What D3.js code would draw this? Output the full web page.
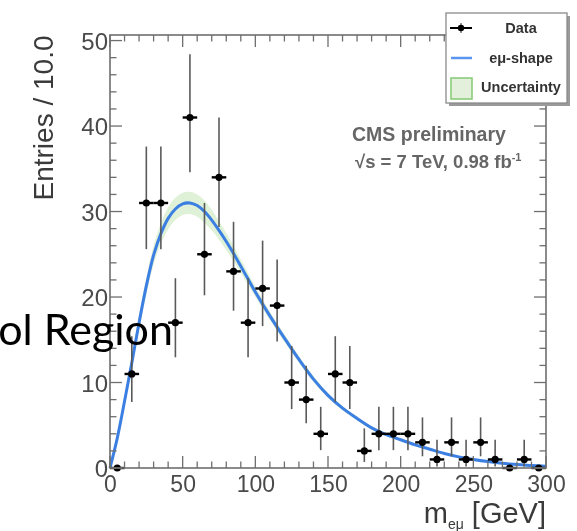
<!DOCTYPE html>
<html>
<head>
<meta charset="utf-8">
<script src="https://cdn.jsdelivr.net/npm/d3@7"></script>
<style>
  html, body { margin: 0; padding: 0; background: #fff; }
  svg { display: block; }
</style>
</head>
<body>
<svg id="chart" width="577" height="531"></svg>
<script>
// ---- data ----
const binCenters = [5,15,25,35,45,55,65,75,85,95,105,115,125,135,145,155,165,175,185,195,205,215,225,235,245,255,265,275,285,295];
const counts     = [0,11,31,31,17,41,25,34,23,17,21,19,10,8,4,11,10,2,4,4,4,3,1,3,1,3,1,0,1,0];
const errLowBound  = [0,7.73,25.6,25.6,12.95,34.6,20.2,28.2,18.4,12.95,16.6,14.8,6.89,5.23,2.09,7.73,6.89,0.71,2.09,2.09,2.09,1.37,0.17,1.37,0.17,1.37,0.17,0,0.17,0];
const errHighBound = [0,15.42,37.6,37.6,22.2,48.4,31.0,41.0,28.8,22.2,26.6,24.4,14.27,11.95,7.16,15.42,14.27,4.64,7.16,7.16,7.16,5.92,3.30,5.92,3.30,5.92,3.30,0,3.30,0];

const curveX = [0,5,10,15,20,25,30,35,40,45,50,55,60,65,70,75,80,85,90,95,100,110,120,130,140,150,160,170,180,190,200,210,220,230,240,250,260,270,280,290,300];
const curveY = [0,3.5,7.8,12.3,17.0,21.3,24.9,27.4,29.2,30.3,30.9,31.0,30.7,30.0,29.0,27.8,26.5,25.1,23.6,22.1,20.6,17.8,15.2,12.7,10.4,8.5,7.0,5.8,4.7,3.9,3.3,2.7,2.2,1.7,1.3,1.0,0.75,0.55,0.4,0.3,0.2];
const curveUnc = [0,0.3,0.5,0.7,0.9,1.0,1.1,1.2,1.3,1.3,1.3,1.3,1.3,1.3,1.2,1.1,1.0,0.9,0.8,0.7,0.6,0.5,0.45,0.4,0.35,0.3,0.25,0.2,0.2,0.15,0.15,0.1,0.1,0.1,0.1,0.08,0.06,0.05,0.04,0.03,0.02];

const xTicks = [0,50,100,150,200,250,300];
const yTicks = [0,10,20,30,40,50];
const legendLabels = ["Data", "eμ-shape", "Uncertainty"];

// ---- layout ----
const svg = d3.select("#chart");
const L = 110, R = 546, T = 35, B = 468;
const x = d3.scaleLinear().domain([0, 300]).range([L, R]);
const y = d3.scaleLinear().domain([0, 50.65]).range([B, T]);

const chart = svg.append("g").style("filter", "blur(0.45px)");
const axisCol = "#6e6e6e";
const labelCol = "#4a4a4a";

// uncertainty band
const band = d3.area()
  .x((d, i) => x(curveX[i]))
  .y0((d, i) => y(Math.max(0, curveY[i] - curveUnc[i])))
  .y1((d, i) => y(curveY[i] + curveUnc[i]))
  .curve(d3.curveCatmullRom);
chart.append("path").datum(curveX).attr("d", band)
  .attr("fill", "#dcefd2").attr("opacity", 0.9);

// curve
const line = d3.line()
  .x((d, i) => x(curveX[i]))
  .y((d, i) => y(curveY[i]))
  .curve(d3.curveCatmullRom);
chart.append("path").datum(curveX).attr("d", line)
  .attr("fill", "none").attr("stroke", "#3b7fe3").attr("stroke-width", 3);

// data points
const pts = chart.append("g");
binCenters.forEach((c, i) => {
  const g = pts.append("g");
  if (errHighBound[i] > counts[i] || errLowBound[i] < counts[i]) {
    g.append("line")
      .attr("x1", x(c)).attr("x2", x(c))
      .attr("y1", y(errLowBound[i])).attr("y2", y(errHighBound[i]))
      .attr("stroke", "#5a5a5a").attr("stroke-width", 1.6);
  }
  g.append("line")
    .attr("x1", x(c - 5)).attr("x2", x(c + 5))
    .attr("y1", y(counts[i])).attr("y2", y(counts[i]))
    .attr("stroke", "#000").attr("stroke-width", 2.4);
  g.append("circle").attr("cx", x(c)).attr("cy", y(counts[i])).attr("r", 3.6).attr("fill", "#000");
});

// frame
chart.append("rect").attr("x", L).attr("y", T).attr("width", R - L).attr("height", B - T)
  .attr("fill", "none").attr("stroke", axisCol).attr("stroke-width", 1.6);

// ticks (ROOT style: inside, on all four sides)
const tickG = chart.append("g").attr("stroke", axisCol).attr("stroke-width", 1.3);
d3.range(0, 301, 10).forEach(v => {
  const len = (v % 50 === 0) ? 12 : 6.5;
  tickG.append("line").attr("x1", x(v)).attr("x2", x(v)).attr("y1", B).attr("y2", B - len);
  tickG.append("line").attr("x1", x(v)).attr("x2", x(v)).attr("y1", T).attr("y2", T + len);
});
d3.range(0, 51, 2).forEach(v => {
  const len = (v % 10 === 0) ? 12 : 6.5;
  tickG.append("line").attr("y1", y(v)).attr("y2", y(v)).attr("x1", L).attr("x2", L + len);
  tickG.append("line").attr("y1", y(v)).attr("y2", y(v)).attr("x1", R).attr("x2", R - len);
});

// tick labels
const xAxis = d3.axisBottom(x).tickValues(xTicks).tickSize(0).tickPadding(0).tickFormat(d3.format("d"));
const gx = chart.append("g").attr("transform", `translate(0,${B})`).call(xAxis);
gx.select(".domain").remove();
gx.selectAll("text").attr("font-family", "Liberation Sans, Arial, sans-serif")
  .attr("font-size", 23).attr("fill", labelCol).attr("y", 24).attr("dy", 0);

const yAxis = d3.axisLeft(y).tickValues(yTicks).tickSize(0).tickPadding(0).tickFormat(d3.format("d"));
const gy = chart.append("g").attr("transform", `translate(${L - 2},0)`).call(yAxis);
gy.select(".domain").remove();
gy.selectAll("text").attr("font-family", "Liberation Sans, Arial, sans-serif")
  .attr("font-size", 24).attr("fill", labelCol).attr("x", 0).attr("dy", "0.36em");

// axis titles
chart.append("text")
  .attr("transform", `translate(53,118) rotate(-90)`)
  .attr("text-anchor", "middle")
  .attr("font-family", "Liberation Sans, Arial, sans-serif")
  .attr("font-size", 28).attr("fill", "#3a3a3a")
  .text("Entries / 10.0");

const xt = chart.append("text")
  .attr("x", R).attr("y", 523).attr("text-anchor", "end")
  .attr("font-family", "Liberation Sans, Arial, sans-serif")
  .attr("font-size", 29).attr("fill", "#3a3a3a");
xt.append("tspan").text("m");
xt.append("tspan").attr("font-size", 14).attr("dy", 6).text("eμ");
xt.append("tspan").attr("dy", -6).text(" [GeV]");

// CMS text
chart.append("text").attr("x", 352).attr("y", 141)
  .attr("font-family", "Liberation Sans, Arial, sans-serif").attr("font-weight", "bold")
  .attr("font-size", 19.5).attr("fill", "#666").text("CMS preliminary");
const t2 = chart.append("text").attr("x", 355).attr("y", 168)
  .attr("font-family", "Liberation Sans, Arial, sans-serif").attr("font-weight", "bold")
  .attr("font-size", 18.5).attr("fill", "#666");
t2.append("tspan").text("√s = 7 TeV, 0.98 fb");
t2.append("tspan").attr("font-size", 11).attr("dy", -7).text("-1");

// legend
const lg = chart.append("g");
lg.append("rect").attr("x", 449).attr("y", 16).attr("width", 121).attr("height", 90).attr("fill", "#9a9a9a");
lg.append("rect").attr("x", 446).attr("y", 13).attr("width", 121).attr("height", 90)
  .attr("fill", "#fff").attr("stroke", "#8a8a8a").attr("stroke-width", 1.3);
const legY = [28, 58, 87];
// data entry
lg.append("line").attr("x1", 450).attr("x2", 472).attr("y1", legY[0]).attr("y2", legY[0]).attr("stroke", "#000").attr("stroke-width", 2);
lg.append("line").attr("x1", 461).attr("x2", 461).attr("y1", legY[0] - 5).attr("y2", legY[0] + 5).attr("stroke", "#333").attr("stroke-width", 1);
lg.append("circle").attr("cx", 461).attr("cy", legY[0]).attr("r", 3.2).attr("fill", "#000");
// curve entry
lg.append("line").attr("x1", 451).attr("x2", 472).attr("y1", legY[1]).attr("y2", legY[1]).attr("stroke", "#5a95ee").attr("stroke-width", 2.5);
// uncertainty entry
lg.append("rect").attr("x", 451).attr("y", 78).attr("width", 21).attr("height", 21)
  .attr("fill", "#e2f0dc").attr("stroke", "#8ccc7c").attr("stroke-width", 1.6);
lg.selectAll("text.leg").data(legendLabels).enter().append("text")
  .attr("x", 521).attr("y", (d, i) => legY[i]).attr("dy", "0.36em")
  .attr("text-anchor", "middle")
  .attr("font-family", "Liberation Sans, Arial, sans-serif").attr("font-weight", "bold")
  .attr("font-size", 14.5).attr("fill", "#333")
  .text(d => d);

// overlay slide text (crisp)
svg.append("text").attr("x", 173).attr("y", 345).attr("text-anchor", "end")
  .attr("font-family", "Lato, 'Open Sans', sans-serif")
  .attr("font-size", 43).attr("fill", "#000").text("ol Region");
</script>
</body>
</html>
